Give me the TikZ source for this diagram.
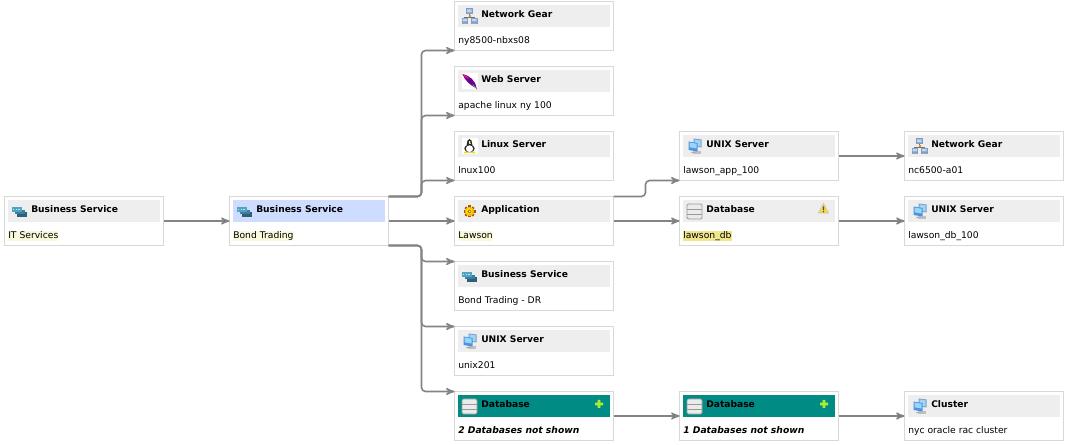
\documentclass[tikz,border=0pt]{standalone}
\usepackage{fontspec}
\setmainfont{DejaVu Sans}
\usetikzlibrary{arrows}
\definecolor{linegray}{HTML}{848484}
\definecolor{cardedge}{HTML}{D8D8D8}
\definecolor{headgray}{HTML}{EEEEEE}
\definecolor{headblue}{HTML}{CDDCFF}
\definecolor{headteal}{HTML}{008B84}
\definecolor{softyellow}{HTML}{F9F9DC}
\definecolor{hardyellow}{HTML}{F0E68C}
\definecolor{bizdark}{HTML}{2F5F78}
\definecolor{bizmid}{HTML}{3A7F9E}
\definecolor{bizlight}{HTML}{4FA3C4}
\definecolor{netblue}{HTML}{7F9CCB}
\definecolor{netlight}{HTML}{C4D4EC}
\definecolor{screenblue}{HTML}{4A93E6}
\definecolor{screenlight}{HTML}{9CD6F7}
\definecolor{plusgreen}{HTML}{A8EC34}
\newcommand{\softmark}[1]{{\fboxsep=0pt\colorbox{softyellow}{\rule[-1.9pt]{0pt}{7.6pt}#1}}}
\newcommand{\hardmark}[1]{{\fboxsep=0pt\colorbox{hardyellow}{\rule[-1.9pt]{0pt}{7.6pt}#1}}}
% header, icon and the two lines of one card
\newcommand{\cardtext}[5][headgray]{
	\node[cardhead, fill=#1] (#2head) at ([yshift=-10.875pt]#2.north) {};
	\pic at ([shift={(15,-15)}]#2.north west) {#5};
	\node[cardtitle] (#2title) at ([shift={(26.5,-12.7)}]#2.north west) {#3};
	\node[cardvalue] (#2value) at ([shift={(3.5,-39.4)}]#2.north west) {#4};
}
\tikzset{
	card/.style={rectangle, draw=cardedge, line width=.75pt, fill=white, minimum width=119.25pt, minimum height=36.75pt, inner sep=0pt, outer sep=0pt},
	cardhead/.style={rectangle, minimum width=114pt, minimum height=16.5pt, inner sep=0pt},
	cardtitle/.style={anchor=west, inner sep=0pt, font=\fontsize{6.85}{8}\selectfont\bfseries, text height=5.2pt, text depth=0pt},
	cardvalue/.style={anchor=west, inner sep=0pt, font=\fontsize{6.9}{8}\selectfont, text height=5.7pt, text depth=1.9pt},
	link/.style={->, draw=linegray, line width=1.2pt, rounded corners=3pt},
	vstep/.style={node distance=48.75pt},
	bizicon/.pic={
		\fill[bizdark] (-2.5,-.5) rectangle (7.5,-5.5);
		\fill[bizmid] (-5,1.5) rectangle (5,-3);
		\fill[bizlight] (-7.5,4) rectangle (2.5,-.7);
		\draw[white!70!bizlight, line width=.5, dash pattern=on 1 off 1] (-6.5,2) -- (1.5,2);
	},
	neticon/.pic={
		\draw[black!55, line width=.8] (0,5) -- (0,0) (-4.5,-4) -- (-4.5,-1) -- (4.5,-1) -- (4.5,-4);
		\fill[orange] (-1,1) rectangle (1,-1);
		\fill[netblue] (-3.5,8) rectangle (3,2);
		\fill[netblue] (-8,-1.5) rectangle (-1.5,-7.5);
		\fill[netblue] (1.5,-1.5) rectangle (8,-7.5);
		\fill[netlight] (-2.5,7) rectangle (2,4) (-7,-2.5) rectangle (-2.5,-5) (2.5,-2.5) rectangle (7,-5);
		\fill[black!35] (-7,-6.5) rectangle (-2.5,-7.5) (2.5,-6.5) rectangle (7,-7.5);
	},
	feathericon/.pic={
		\fill[white] (-8,-8) rectangle (8,8);
		\fill[violet!85!blue] (-7,7.5) .. controls (0,6) and (6,1) .. (7,-6.5) .. controls (2,-5) and (-5,1) .. (-7,7.5);
		\fill[magenta!80!violet] (-7,7.5) .. controls (-3,6.5) and (-1,4) .. (0,2) .. controls (-2,3) and (-5,3.5) .. (-7,7.5);
		\draw[black!50, line width=.6] (3,-3) -- (7.5,-7.5);
	},
	penguinicon/.pic={
		\fill[white] (-8,-8) rectangle (8,8);
		\fill[black!85] (0,2) ellipse (2.8 and 5.5);
		\fill[black!85] (0,-2) ellipse (5.2 and 4);
		\fill[white] (0,-2.2) ellipse (3.6 and 3.4);
		\fill[white] (0,4.5) circle (1);
		\fill[yellow!80!orange] (-5.5,-7) rectangle (-1.5,-5.5) (1.5,-7) rectangle (5.5,-5.5);
		\fill[yellow!80!orange] (-1,3.4) rectangle (1,2.6);
	},
	gearicon/.pic={
		\foreach \ang in {0,45,...,315}
			\draw[black!35!orange, line width=1.8] (\ang:3.5) -- (\ang:6);
		\fill[orange!60!yellow] (0,0) circle (4.6);
		\fill[yellow!80!orange] (-.3,.3) circle (3.3);
		\fill[black!45!orange] (0,0) circle (1.9);
		\fill[white] (0,0) circle (1);
	},
	unixicon/.pic={
		\fill[black!25] (-2,-7.5) rectangle (6,-5);
		\fill[netblue] (-1,8) -- (7,7) -- (7,-1) -- (-1,0) -- cycle;
		\fill[screenlight] (0,7) -- (6,6.2) -- (6,0) -- (0,1) -- cycle;
		\fill[screenblue] (-6,5) -- (3,3.5) -- (3,-5) -- (-6,-3.5) -- cycle;
		\fill[screenlight] (-5,4) -- (2,2.8) -- (2,-2) -- (-5,-.8) -- cycle;
		\fill[black!30] (-3.5,-7) rectangle (1,-5.5);
	},
	dbicon/.pic={
		\draw[black!40, fill=black!8, rounded corners=1, line width=.7] (-7.5,7.5) rectangle (7.5,-7.5);
		\foreach \row in {2.5,-2.5}
			\draw[black!40, line width=.7] (-7.5,\row) -- (7.5,\row);
	},
	warnicon/.pic={
		\fill[yellow!75!orange!80!white, draw=black!25, line width=.4] (0,5.5) -- (5,-4) -- (-5,-4) -- cycle;
		\fill[black!70] (-.7,2.5) rectangle (.7,-1.2) (-.7,-2) rectangle (.7,-3.3);
	},
	plusicon/.pic={
		\fill[plusgreen] (-1.3,4) rectangle (1.3,-4) (-4,1.3) rectangle (4,-1.3);
	}
}
\begin{document}
\begin{tikzpicture}[x=.75pt, y=.75pt, >=stealth', node distance=168.75pt]
	\useasboundingbox (0,0) rectangle (1068,-445);
	\node[card] (itserv) at (84,-221) {};
	\node[card] (bond) [right of=itserv] {};
	\node[card] (lawson) [right of=bond] {};
	\node[card] (linux) [vstep, above of=lawson] {};
	\node[card] (web) [vstep, above of=linux] {};
	\node[card] (gear) [vstep, above of=web] {};
	\node[card] (bonddr) [vstep, below of=lawson] {};
	\node[card] (unix) [vstep, below of=bonddr] {};
	\node[card] (hiddena) [vstep, below of=unix] {};
	\node[card] (lawsonapp) [right of=linux] {};
	\node[card] (lawsondb) [right of=lawson] {};
	\node[card] (hiddenb) [right of=hiddena] {};
	\node[card] (ncgear) [right of=lawsonapp] {};
	\node[card] (dbunix) [right of=lawsondb] {};
	\node[card] (cluster) [right of=hiddenb] {};

	\cardtext{itserv}{Business Service}{\softmark{IT Services}}{bizicon}
	\cardtext[headblue]{bond}{Business Service}{\softmark{Bond Trading}}{bizicon}
	\cardtext{gear}{Network Gear}{ny8500-nbxs08}{neticon}
	\cardtext{web}{Web Server}{apache linux ny 100}{feathericon}
	\cardtext{linux}{Linux Server}{lnux100}{penguinicon}
	\cardtext{lawson}{Application}{\softmark{Lawson}}{gearicon}
	\cardtext{bonddr}{Business Service}{Bond Trading - DR}{bizicon}
	\cardtext{unix}{UNIX Server}{unix201}{unixicon}
	\cardtext[headteal]{hiddena}{Database}{\textbf{\textit{2 Databases not shown}}}{dbicon}
	\cardtext{lawsonapp}{UNIX Server}{lawson\_app\_100}{unixicon}
	\cardtext{lawsondb}{Database}{\hardmark{lawson\_db}}{dbicon}
	\cardtext[headteal]{hiddenb}{Database}{\textbf{\textit{1 Databases not shown}}}{dbicon}
	\cardtext{ncgear}{Network Gear}{nc6500-a01}{neticon}
	\cardtext{dbunix}{UNIX Server}{lawson\_db\_100}{unixicon}
	\cardtext{cluster}{Cluster}{nyc oracle rac cluster}{unixicon}

	\pic at ([shift={(144,-12.5)}]lawsondb.north west) {warnicon};
	\pic at ([shift={(144.5,-12.5)}]hiddena.north west) {plusicon};
	\pic at ([shift={(144.5,-12.5)}]hiddenb.north west) {plusicon};

	\coordinate (upbend) at ([xshift=24.75pt]bond.north east);
	\coordinate (downbend) at ([xshift=24.75pt]bond.south east);
	\coordinate (appbend) at ([xshift=24pt]lawson.north east);

	\path[link] (itserv) edge (bond)
		(bond) edge (lawson)
		(lawson) edge (lawsondb)
		(lawsondb) edge (dbunix)
		(lawsonapp) edge (ncgear)
		(hiddena) edge (hiddenb)
		(hiddenb) edge (cluster);
	\draw[link] (bond.north east) -- (upbend) |- (gear.south west);
	\draw[link] (bond.north east) -- (upbend) |- (web.south west);
	\draw[link] (bond.north east) -- (upbend) |- (linux.south west);
	\draw[link] (bond.south east) -- (downbend) |- (bonddr.north west);
	\draw[link] (bond.south east) -- (downbend) |- (unix.north west);
	\draw[link] (bond.south east) -- (downbend) |- (hiddena.north west);
	\draw[link] (lawson.north east) -- (appbend) |- (lawsonapp.south west);
\end{tikzpicture}
\end{document}
